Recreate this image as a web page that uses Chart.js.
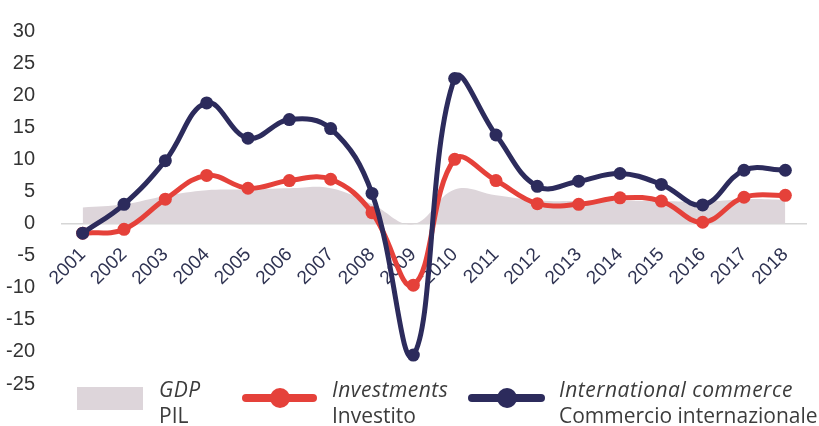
<!DOCTYPE html>
<html>
<head>
<meta charset="utf-8">
<script src="https://cdn.jsdelivr.net/npm/chart.js@4/dist/chart.umd.min.js"></script>
<style>
  html, body { margin: 0; padding: 0; background: #fff; }
  #wrap { position: relative; width: 819px; height: 426px; }
  #legend { position: absolute; left: 0; top: 0; width: 819px; height: 426px; pointer-events: none;
    font-family: "Open Sans", sans-serif; font-size: 21px; color: #3c3c3c; }
  .sw { position: absolute; }
  .txt { position: absolute; line-height: 26px; white-space: nowrap; }
  .txt i { display: block; letter-spacing: 0.5px; }
</style>
</head>
<body>
<div id="wrap">
  <canvas id="chart" width="819" height="426"></canvas>
  <div id="legend">
    <div class="sw" style="left:77px;top:387px;width:66px;height:23px;background:#ddd5da"></div>
    <div class="txt" style="left:159px;top:376px"><i>GDP</i>PIL</div>

    <div class="sw" style="left:242px;top:394px;width:75px;height:8px;border-radius:4px;background:#e5413a"></div>
    <div class="sw" style="left:270px;top:388px;width:20px;height:20px;border-radius:50%;background:#e5413a"></div>
    <div class="txt" style="left:332px;top:376px"><i>Investments</i>Investito</div>

    <div class="sw" style="left:468px;top:394px;width:77px;height:8px;border-radius:4px;background:#2c2b5c"></div>
    <div class="sw" style="left:497px;top:388px;width:20px;height:20px;border-radius:50%;background:#2c2b5c"></div>
    <div class="txt" style="left:559px;top:376px"><i>International commerce</i>Commercio internazionale</div>
  </div>
</div>
<script>
"use strict";

// ~ Data
const years = ["2001", "2002", "2003", "2004", "2005", "2006", "2007", "2008", "2009",
  "2010", "2011", "2012", "2013", "2014", "2015", "2016", "2017", "2018"];
const gdp = [2.5, 3.0, 4.3, 5.2, 5.3, 5.5, 5.5, 3.0, -0.1, 5.3, 4.4, 3.6, 3.5, 3.6, 3.5, 3.4, 3.8, 3.7];
const investments = [-1.5, -0.9, 3.8, 7.5, 5.5, 6.7, 6.9, 1.7, -9.6, 10.0, 6.7, 3.1, 3.0, 4.0, 3.5, 0.2, 4.1, 4.4];
const commerce = [-1.5, 3.0, 9.8, 18.8, 13.3, 16.2, 14.8, 4.7, -20.5, 22.6, 13.8, 5.8, 6.6, 7.8, 6.1, 2.9, 8.3, 8.3];
const yTicks = [30, 25, 20, 15, 10, 5, 0, -5, -10, -15, -20, -25];

const navy = "#2c2b5c";
const red = "#e5413a";

const ctx = document.getElementById("chart").getContext("2d");

new Chart(ctx, {
  type: "line",
  data: {
    labels: years,
    datasets: [
      {
        label: "International commerce",
        data: commerce,
        borderColor: navy,
        backgroundColor: navy,
        borderWidth: 5,
        pointRadius: 6.5,
        pointBorderWidth: 0,
        tension: 0.4,
        fill: false,
        order: 1,
      },
      {
        label: "Investments",
        data: investments,
        borderColor: red,
        backgroundColor: red,
        borderWidth: 5,
        pointRadius: 6.5,
        pointBorderWidth: 0,
        tension: 0.4,
        fill: false,
        order: 2,
      },
      {
        label: "GDP",
        data: gdp,
        borderWidth: 0,
        borderColor: "rgba(0,0,0,0)",
        backgroundColor: "#ddd5da",
        pointRadius: 0,
        tension: 0.4,
        fill: "origin",
        order: 3,
      },
    ],
  },
  options: {
    responsive: false,
    animation: false,
    layout: { autoPadding: false, padding: { top: 26, bottom: 42, left: 0, right: 13 } },
    plugins: { legend: { display: false }, tooltip: { enabled: false } },
    scales: {
      x: {
        position: { y: 0 },
        offset: true,
        grid: { display: false },
        border: { display: true, color: "#d6d6d6", width: 1.5 },
        ticks: {
          color: "#2f3352",
          font: { family: "Liberation Sans", size: 19 },
          minRotation: 45,
          maxRotation: 45,
          padding: 12,
        },
      },
      y: {
        min: -25,
        max: 30,
        afterFit: (axis) => { axis.width = 62; },
        afterBuildTicks: (axis) => { axis.ticks = yTicks.map((v) => ({ value: v })); },
        grid: { display: false },
        border: { display: false },
        ticks: {
          color: "#333",
          font: { family: "Liberation Sans", size: 20 },
          padding: 19,
        },
      },
    },
  },
});
</script>
</body>
</html>
